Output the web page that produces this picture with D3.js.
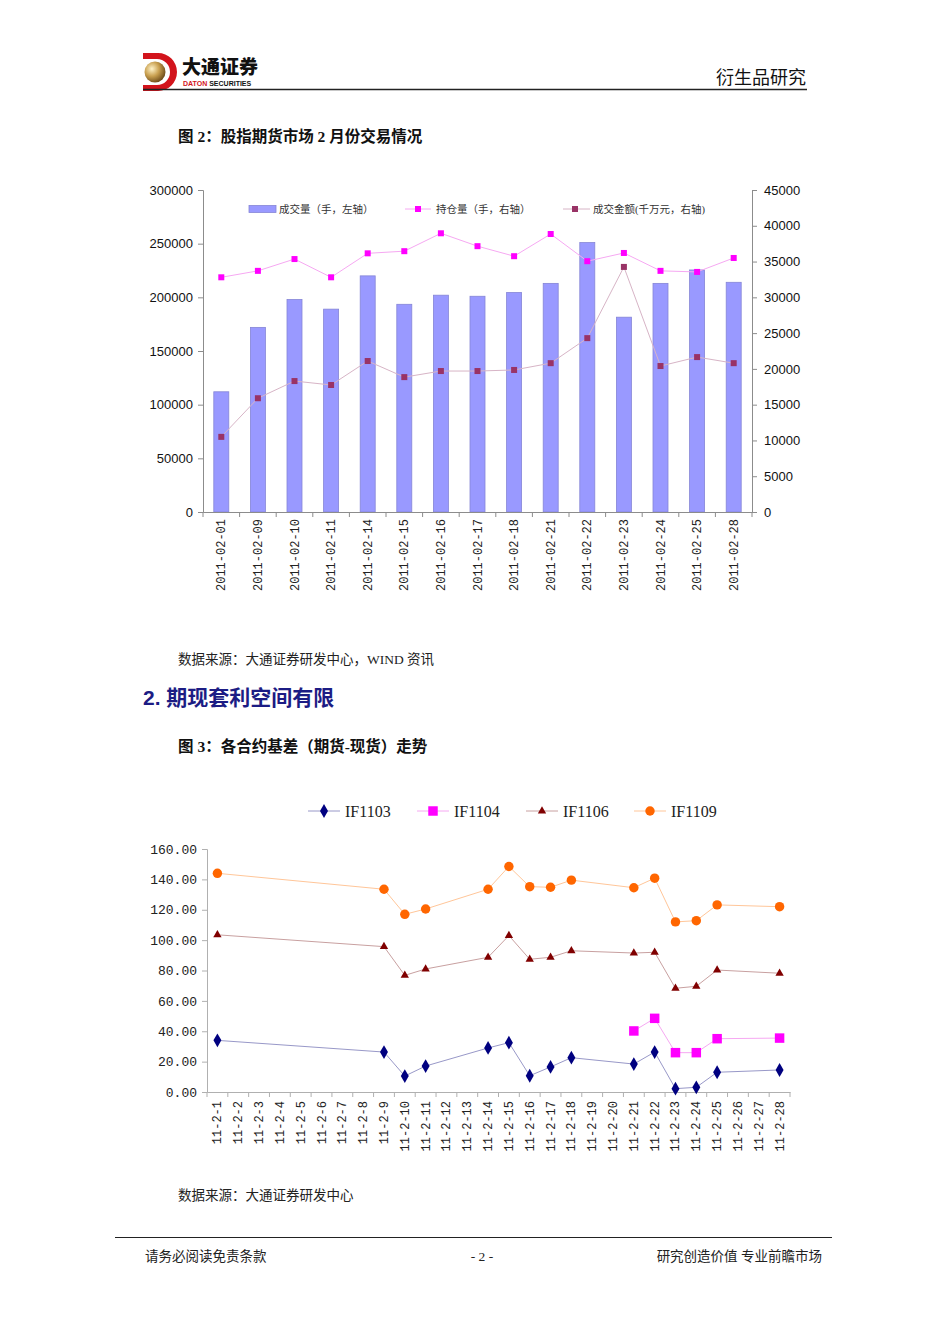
<!DOCTYPE html>
<html>
<head>
<meta charset="utf-8">
<script src="https://cdn.jsdelivr.net/npm/d3@7"></script>
<style>
  body { margin: 0; background: #fff; }
  svg { display: block; }
</style>
</head>
<body>
<svg id="page" width="950" height="1344"></svg>
<script>
// 图2 数据
const dates1 = ["2011-02-01","2011-02-09","2011-02-10","2011-02-11","2011-02-14","2011-02-15","2011-02-16","2011-02-17","2011-02-18","2011-02-21","2011-02-22","2011-02-23","2011-02-24","2011-02-25","2011-02-28"];
const volume = [112000,172000,198000,189000,220000,193500,202000,201000,204500,213000,251000,181500,213000,225500,214000];
const openInt = [32800,33700,35350,32800,36150,36450,38950,37150,35750,38850,35050,36200,33700,33550,35500];
const turnover = [10500,15900,18300,17750,21100,18850,19700,19700,19850,20800,24300,34250,20400,21650,20800];
const leftTicks = [0,50000,100000,150000,200000,250000,300000];
const rightTicks = [0,5000,10000,15000,20000,25000,30000,35000,40000,45000];

// 图3 数据（按 2 月日期）
const days2 = d3.range(1, 29).map(d => "11-2-" + d);
const tradeDays = [1,9,10,11,14,15,16,17,18,21,22,23,24,25,28];
const if1103 = [34.0,26.3,10.5,17.1,29.0,32.5,10.7,16.5,22.6,18.4,26.3,2.2,3.1,13.0,14.5];
const if1104 = [null,null,null,null,null,null,null,null,null,40.2,48.5,25.9,25.9,35.1,35.5];
const if1106 = [103.5,95.7,76.8,81.0,88.7,103.0,87.4,88.7,93.0,91.5,92.0,68.3,69.6,80.3,78.2];
const if1109 = [144.0,133.5,117.0,120.5,133.5,148.5,135.2,134.8,139.5,134.5,140.8,112.0,112.8,123.2,122.0];
const basisTicks = [0,20,40,60,80,100,120,140,160];

const svg = d3.select("#page");
const cjk = "'Noto Sans CJK SC', sans-serif";
const serif = "'Liberation Serif', 'Noto Sans CJK SC', serif";
const mono = "'Liberation Mono', monospace";

// ---------- 页眉 ----------
const defs = svg.append("defs");
const grad = defs.append("radialGradient").attr("id", "ball").attr("cx", "35%").attr("cy", "35%").attr("r", "70%");
grad.append("stop").attr("offset", "0%").attr("stop-color", "#fff3c8");
grad.append("stop").attr("offset", "50%").attr("stop-color", "#c9a050");
grad.append("stop").attr("offset", "100%").attr("stop-color", "#6b4a18");

svg.append("path")
  .attr("d", "M143,53 L158,53 A19,19 0 0 1 158,91 L143,91 L143,85 L157,85 A13,13 0 0 0 157,59 L143,59 Z")
  .attr("fill", "#d2141c");
svg.append("circle").attr("cx", 155).attr("cy", 72).attr("r", 10.5).attr("fill", "url(#ball)");
svg.append("text").attr("x", 182).attr("y", 74).text("大通证券")
  .style("font-family", cjk).style("font-weight", "900").style("font-size", "19px").attr("fill", "#111");
const en = svg.append("text").attr("x", 183).attr("y", 86)
  .style("font-family", "'Liberation Sans', sans-serif").style("font-weight", "bold").style("font-size", "7px");
en.append("tspan").attr("fill", "#d2141c").text("DATON ");
en.append("tspan").attr("fill", "#111").text("SECURITIES");
svg.append("text").attr("x", 806).attr("y", 84).attr("text-anchor", "end").text("衍生品研究")
  .style("font-family", cjk).style("font-size", "18px").attr("fill", "#111");
svg.append("line").attr("x1", 143).attr("x2", 807).attr("y1", 89.5).attr("y2", 89.5)
  .attr("stroke", "#222").attr("stroke-width", 1.5);

function caption(x, y, t, size, bold, color, fam) {
  svg.append("text").attr("x", x).attr("y", y).text(t)
    .style("font-family", fam || serif).style("font-size", size + "px")
    .style("font-weight", bold ? "bold" : "normal").attr("fill", color || "#111");
}

caption(178, 142, "图 2：股指期货市场 2 月份交易情况", 15.5, true);
caption(178, 664, "数据来源：大通证券研发中心，WIND 资讯", 13.5, false, "#222");
caption(143, 705, "2. 期现套利空间有限", 21, true, "#1c1c84", "'Liberation Sans', " + cjk);
caption(178, 752, "图 3：各合约基差（期货-现货）走势", 15.5, true);
caption(178, 1200, "数据来源：大通证券研发中心", 13.5, false, "#222");

// ---------- 图2 ----------
const c1 = { left: 203, right: 752, top: 190, bottom: 512 };
const x1 = d3.scaleBand().domain(dates1).range([c1.left, c1.right]);
const yL = d3.scaleLinear().domain([0, 300000]).range([c1.bottom, c1.top]);
const yR = d3.scaleLinear().domain([0, 45000]).range([c1.bottom, c1.top]);
const axisColor = "#8c8c8c";

const g1 = svg.append("g");
g1.selectAll("rect.bar").data(dates1).enter().append("rect")
  .attr("class", "bar")
  .attr("x", d => x1(d) + x1.bandwidth() / 2 - 7.5)
  .attr("width", 15)
  .attr("y", (d, i) => yL(volume[i]))
  .attr("height", (d, i) => c1.bottom - yL(volume[i]))
  .attr("fill", "#9999ff").attr("stroke", "#8585d6").attr("stroke-width", 0.8);

const leftAxis = g1.append("g").attr("transform", `translate(${c1.left},0)`)
  .call(d3.axisLeft(yL).tickValues(leftTicks).tickSize(5).tickFormat(d3.format("d")));
const rightAxis = g1.append("g").attr("transform", `translate(${c1.right},0)`)
  .call(d3.axisRight(yR).tickValues(rightTicks).tickSize(5).tickFormat(d3.format("d")));
const bottomAxis = g1.append("g").attr("transform", `translate(0,${c1.bottom})`)
  .call(d3.axisBottom(x1).tickSize(0).tickFormat(""));
bottomAxis.selectAll(".tick").remove();
bottomAxis.selectAll("line.sep").data(dates1.concat(["end"])).enter().append("line")
  .attr("class", "sep")
  .attr("x1", (d, i) => i < dates1.length ? x1(d) : c1.right)
  .attr("x2", (d, i) => i < dates1.length ? x1(d) : c1.right)
  .attr("y1", 0).attr("y2", 5).attr("stroke", axisColor);
[leftAxis, rightAxis, bottomAxis].forEach(a => {
  a.select(".domain").attr("stroke", axisColor);
  a.selectAll(".tick line").attr("stroke", axisColor);
  a.selectAll(".tick text").style("font-family", "'Liberation Sans', sans-serif")
    .style("font-size", "13px").attr("fill", "#111");
});
leftAxis.selectAll(".tick text").attr("x", -10);
rightAxis.selectAll(".tick text").attr("x", 12);

g1.selectAll("text.xl").data(dates1).enter().append("text")
  .attr("class", "xl")
  .attr("transform", d => `translate(${x1(d) + x1.bandwidth() / 2 + 4},519) rotate(-90)`)
  .attr("text-anchor", "end")
  .style("font-family", mono).style("font-size", "12px").attr("fill", "#222")
  .text(d => d);

const lineR = d3.line().x((d, i) => x1(dates1[i]) + x1.bandwidth() / 2).y(d => yR(d));
g1.append("path").datum(openInt).attr("d", lineR).attr("fill", "none")
  .attr("stroke", "#f6a8f2").attr("stroke-width", 1);
g1.append("path").datum(turnover).attr("d", lineR).attr("fill", "none")
  .attr("stroke", "#d7b4c6").attr("stroke-width", 1);
g1.selectAll("rect.oi").data(openInt).enter().append("rect")
  .attr("x", (d, i) => x1(dates1[i]) + x1.bandwidth() / 2 - 3)
  .attr("y", d => yR(d) - 3).attr("width", 6).attr("height", 6).attr("fill", "#ff00ff");
g1.selectAll("rect.to").data(turnover).enter().append("rect")
  .attr("x", (d, i) => x1(dates1[i]) + x1.bandwidth() / 2 - 3)
  .attr("y", d => yR(d) - 3).attr("width", 6).attr("height", 6).attr("fill", "#993366");

// 图例
const lg1 = g1.append("g").style("font-family", serif).style("font-size", "10.5px");
lg1.append("rect").attr("x", 249).attr("y", 205.5).attr("width", 27).attr("height", 7)
  .attr("fill", "#9999ff").attr("stroke", "#8585d6").attr("stroke-width", 0.8);
lg1.append("text").attr("x", 279).attr("y", 213).text("成交量（手，左轴）").attr("fill", "#333");
lg1.append("line").attr("x1", 405).attr("x2", 431).attr("y1", 209).attr("y2", 209).attr("stroke", "#f6a8f2");
lg1.append("rect").attr("x", 415).attr("y", 206).attr("width", 6).attr("height", 6).attr("fill", "#ff00ff");
lg1.append("text").attr("x", 436).attr("y", 213).text("持仓量（手，右轴）").attr("fill", "#333");
lg1.append("line").attr("x1", 563).attr("x2", 590).attr("y1", 209).attr("y2", 209).attr("stroke", "#d7b4c6");
lg1.append("rect").attr("x", 572).attr("y", 206).attr("width", 6).attr("height", 6).attr("fill", "#993366");
lg1.append("text").attr("x", 593).attr("y", 213).text("成交金额(千万元，右轴)").attr("fill", "#333");

// ---------- 图3 ----------
const c2 = { left: 207, right: 790, top: 849, bottom: 1092 };
const x2 = d3.scaleBand().domain(days2).range([c2.left, c2.right]);
const y2 = d3.scaleLinear().domain([0, 160]).range([c2.bottom, c2.top]);
const g2 = svg.append("g");

const yAxis2 = g2.append("g").attr("transform", `translate(${c2.left},0)`)
  .call(d3.axisLeft(y2).tickValues(basisTicks).tickSize(5).tickFormat(d3.format(".2f")));
yAxis2.select(".domain").attr("stroke", "#b0b0b0");
yAxis2.selectAll(".tick line").attr("stroke", "#b0b0b0");
yAxis2.selectAll(".tick text").attr("x", -10).style("font-family", mono)
  .style("font-size", "13px").attr("fill", "#222");

const xAxis2 = g2.append("g").attr("transform", `translate(0,${c2.bottom})`)
  .call(d3.axisBottom(x2).tickSize(0).tickFormat(""));
xAxis2.selectAll(".tick").remove();
xAxis2.select(".domain").attr("stroke", "#b0b0b0");
xAxis2.selectAll("line.sep").data(days2.concat(["end"])).enter().append("line")
  .attr("x1", (d, i) => i < days2.length ? x2(d) : c2.right)
  .attr("x2", (d, i) => i < days2.length ? x2(d) : c2.right)
  .attr("y1", 0).attr("y2", 5).attr("stroke", "#b0b0b0");
g2.selectAll("text.xl2").data(days2).enter().append("text")
  .attr("transform", d => `translate(${x2(d) + x2.bandwidth() / 2 + 4},1101) rotate(-90)`)
  .attr("text-anchor", "end")
  .style("font-family", mono).style("font-size", "12px").attr("fill", "#222")
  .text(d => d);

const series = [
  { name: "IF1103", vals: if1103, color: "#000080", line: "#9898c8", sym: d3.symbolDiamond, size: 55 },
  { name: "IF1104", vals: if1104, color: "#ff00ff", line: "#f6a8f2", sym: d3.symbolSquare, size: 90 },
  { name: "IF1106", vals: if1106, color: "#800000", line: "#c8a0a0", sym: d3.symbolTriangle, size: 30 },
  { name: "IF1109", vals: if1109, color: "#ff6600", line: "#ffc699", sym: d3.symbolCircle, size: 70 }
];
const px2 = d => x2("11-2-" + d) + x2.bandwidth() / 2;

series.forEach(s => {
  const pts = tradeDays.map((d, i) => ({ day: d, v: s.vals[i] })).filter(p => p.v !== null);
  g2.append("path").datum(pts)
    .attr("d", d3.line().x(p => px2(p.day)).y(p => y2(p.v)))
    .attr("fill", "none").attr("stroke", s.line).attr("stroke-width", 1);
  g2.selectAll(null).data(pts).enter().append("path")
    .attr("transform", p => `translate(${px2(p.day)},${y2(p.v)})`)
    .attr("d", d3.symbol().type(s.sym).size(s.size))
    .attr("fill", s.color);
});

// 图例
const legendX = [308, 417, 526, 634];
series.forEach((s, i) => {
  const lx = legendX[i];
  g2.append("line").attr("x1", lx).attr("x2", lx + 32).attr("y1", 811).attr("y2", 811)
    .attr("stroke", s.line);
  g2.append("path").attr("transform", `translate(${lx + 16},811)`)
    .attr("d", d3.symbol().type(s.sym).size(s.size)).attr("fill", s.color);
  g2.append("text").attr("x", lx + 37).attr("y", 817).text(s.name)
    .style("font-family", serif).style("font-size", "16px").attr("fill", "#222");
});

// ---------- 页脚 ----------
svg.append("line").attr("x1", 115).attr("x2", 832).attr("y1", 1237.5).attr("y2", 1237.5)
  .attr("stroke", "#222").attr("stroke-width", 1.2);
caption(145, 1261, "请务必阅读免责条款", 13.5, false, "#222");
svg.append("text").attr("x", 482).attr("y", 1261).attr("text-anchor", "middle").text("- 2 -")
  .style("font-family", serif).style("font-size", "13.5px").attr("fill", "#222");
svg.append("text").attr("x", 822).attr("y", 1261).attr("text-anchor", "end").text("研究创造价值 专业前瞻市场")
  .style("font-family", serif).style("font-size", "13.5px").attr("fill", "#222");
</script>
</body>
</html>
